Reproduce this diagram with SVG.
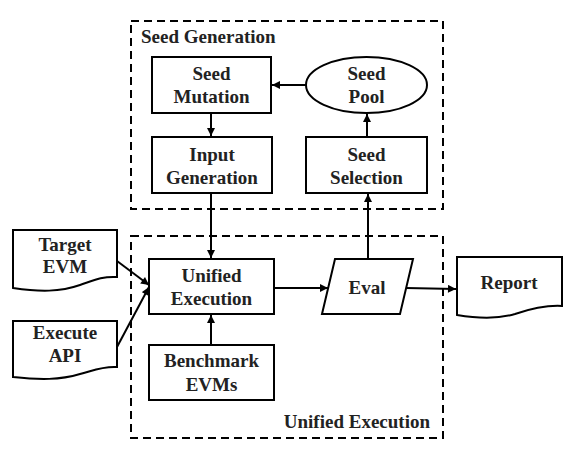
<svg xmlns="http://www.w3.org/2000/svg" width="572" height="453" viewBox="0 0 572 453">
<defs>
<marker id="ah" viewBox="0 0 10 10" refX="10" refY="5" markerWidth="9" markerHeight="8" markerUnits="userSpaceOnUse" orient="auto">
<path d="M0,0 L10,5 L0,10 Z" fill="#000"/>
</marker>
</defs>
<style>
.box{fill:#fff;stroke:#000;stroke-width:2}
.grp{fill:none;stroke:#000;stroke-width:2;stroke-dasharray:8,5}
text{font-family:'Liberation Serif','Times New Roman',Times,serif;font-weight:bold;font-size:19px;fill:#222}
.t{text-anchor:middle}
.c{fill:none;stroke:#000;stroke-width:2;marker-end:url(#ah)}
</style>
<rect width="572" height="453" fill="#fff"/>
<g id="group-seed-generation">
<rect class="grp" x="131" y="21" width="312" height="188"/>
<text x="141" y="43">Seed Generation</text>
</g>
<g id="group-unified-execution">
<rect class="grp" x="131" y="236" width="312" height="202"/>
<text x="430" y="428" text-anchor="end">Unified Execution</text>
</g>
<g id="seed-mutation">
<rect class="box" x="152" y="57" width="119" height="56"/>
<text class="t" x="211.5" y="80">Seed</text>
<text class="t" x="211.5" y="103">Mutation</text>
</g>
<g id="seed-pool">
<ellipse class="box" cx="366.5" cy="85" rx="60.5" ry="28"/>
<text class="t" x="366.5" y="80">Seed</text>
<text class="t" x="366.5" y="103">Pool</text>
</g>
<g id="input-generation">
<rect class="box" x="152" y="137" width="120" height="56"/>
<text class="t" x="212" y="161">Input</text>
<text class="t" x="212" y="184">Generation</text>
</g>
<g id="seed-selection">
<rect class="box" x="306" y="137" width="121" height="56"/>
<text class="t" x="366.5" y="161">Seed</text>
<text class="t" x="366.5" y="184">Selection</text>
</g>
<g id="unified-execution">
<rect class="box" x="149" y="259" width="125" height="55"/>
<text class="t" x="211.5" y="282">Unified</text>
<text class="t" x="211.5" y="305">Execution</text>
</g>
<g id="benchmark-evms">
<rect class="box" x="149" y="345" width="125" height="55"/>
<text class="t" x="211.5" y="367">Benchmark</text>
<text class="t" x="211.5" y="391">EVMs</text>
</g>
<g id="eval">
<path class="box" d="M335,259 L413,259 L400,314 L322,314 Z"/>
<text class="t" x="367" y="294">Eval</text>
</g>
<g id="target-evm">
<path class="box" d="M13,230 H117 V277 C102,276 92,281 80,285 C60,292 40,292 13,288 Z"/>
<text class="t" x="65" y="251">Target</text>
<text class="t" x="65" y="273">EVM</text>
</g>
<g id="execute-api">
<path class="box" d="M13,321 H117 V367 C102,366 92,371 80,374 C60,380 40,380 13,377 Z"/>
<text class="t" x="65" y="339">Execute</text>
<text class="t" x="65" y="362">API</text>
</g>
<g id="report">
<path class="box" d="M457,257 H562 V306 C545,305 530,309 515,314 C495,320 475,318 457,315 Z"/>
<text class="t" x="509" y="289">Report</text>
</g>
<g id="connectors">
<path class="c" d="M306,85 L272,85"/>
<path class="c" d="M211,113 L211,136"/>
<path class="c" d="M367,137 L367,114"/>
<path class="c" d="M211,193 L211,258"/>
<path class="c" d="M211,345 L211,315"/>
<path class="c" d="M274,288 L328,288"/>
<path class="c" d="M368,259 L368,194"/>
<path class="c" d="M406,288 L456,289"/>
<path class="c" d="M117,261 L149,285"/>
<path class="c" d="M117,347 L149,287"/>
</g>
</svg>
